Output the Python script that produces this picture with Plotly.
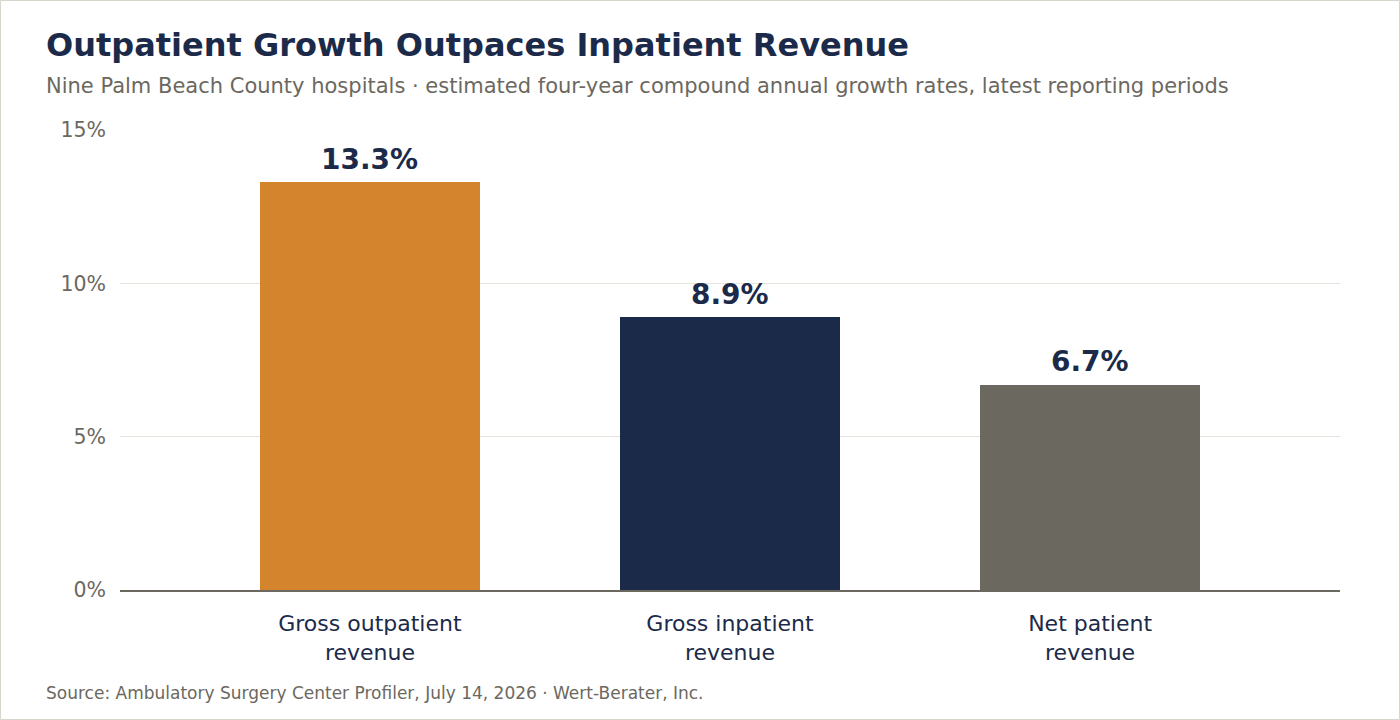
import plotly.graph_objects as go

categories = ["Gross outpatient<br>revenue", "Gross inpatient<br>revenue", "Net patient<br>revenue"]
values = [13.3, 8.9, 6.7]
bar_colors = ["#d4842c", "#1c2a4a", "#6b6860"]
y_ticks = [0, 5, 10, 15]

NAVY = "#1c2a4a"
GRAY = "#6b6860"
FONT = "DejaVu Sans, sans-serif"

W, H = 1400, 720
L, R, T, B = 120, 60, 130, 130
PW, PH = W - L - R, H - T - B

def px(x):
    return (x - L) / PW

def py(y):
    return (H - B - y) / PH

fig = go.Figure(go.Bar(
    x=[0, 1, 2],
    y=values,
    marker=dict(color=bar_colors, line=dict(width=0)),
    width=0.611,
    hoverinfo="skip",
))

annotations = [
    dict(x=i, y=v, xref="x", yref="y", text=f"<b>{v:.1f}%</b>",
         xanchor="center", yanchor="middle", yshift=23, showarrow=False,
         font=dict(family=FONT, size=28, color=NAVY))
    for i, v in enumerate(values)
]

annotations += [
    dict(text="<b>Outpatient Growth Outpaces Inpatient Revenue</b>",
         xref="paper", yref="paper", x=px(44), y=py(45),
         xanchor="left", yanchor="middle", showarrow=False,
         font=dict(family=FONT, size=32, color=NAVY)),
    dict(text="Nine Palm Beach County hospitals · estimated four-year compound annual growth rates, latest reporting periods",
         xref="paper", yref="paper", x=px(44), y=py(86),
         xanchor="left", yanchor="middle", showarrow=False,
         font=dict(family=FONT, size=21, color=GRAY)),
    dict(text="Source: Ambulatory Surgery Center Profiler, July 14, 2026 · Wert-Berater, Inc.",
         xref="paper", yref="paper", x=px(44), y=py(693),
         xanchor="left", yanchor="middle", showarrow=False,
         font=dict(family=FONT, size=17, color=GRAY)),
]

fig.update_layout(
    width=W, height=H,
    margin=dict(l=L, r=R, t=T, b=B, pad=0),
    paper_bgcolor="white",
    plot_bgcolor="white",
    showlegend=False,
    font=dict(family=FONT),
    bargap=0,
    xaxis=dict(
        range=[-0.694, 2.694],
        tickvals=[0, 1, 2],
        ticktext=categories,
        tickfont=dict(family=FONT, size=22, color=NAVY),
        showgrid=False,
        zeroline=False,
        showline=True, linecolor=GRAY, linewidth=2,
        ticks="", ticklabelstandoff=13,
        fixedrange=True,
    ),
    yaxis=dict(
        range=[0, 15],
        tickvals=y_ticks,
        ticktext=[f"{t}%" for t in y_ticks],
        tickfont=dict(family=FONT, size=20.5, color=GRAY),
        showgrid=True, gridcolor="#e6e3dc", gridwidth=1,
        zeroline=False, showline=False,
        ticks="", ticklabelstandoff=13,
        fixedrange=True,
    ),
    annotations=annotations,
    shapes=[
        dict(type="rect", xref="paper", yref="paper",
             x0=px(0.5), x1=px(W - 0.5), y0=py(H - 0.5), y1=py(0.5),
             line=dict(color="#d8d6cc", width=1), fillcolor="rgba(0,0,0,0)",
             layer="above"),
    ],
)

fig.write_html("out.html")
